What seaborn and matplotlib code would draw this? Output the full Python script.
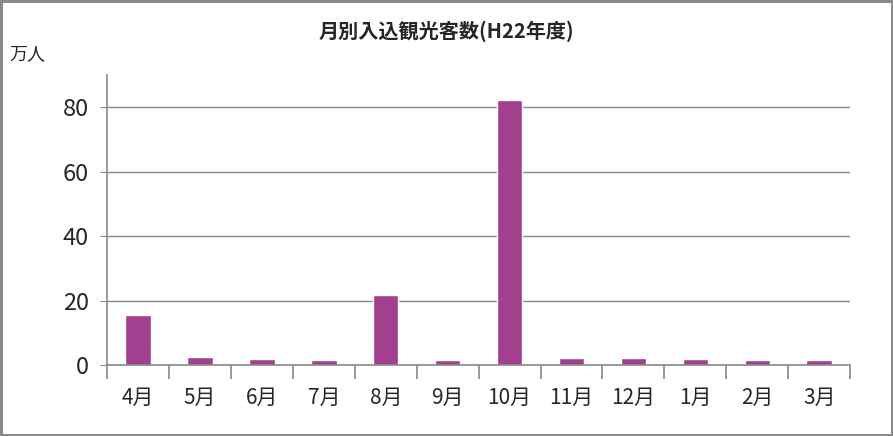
import matplotlib
matplotlib.use("Agg")
import matplotlib.pyplot as plt
import numpy as np
import pandas as pd
import seaborn as sns

# data (万人)
months = ["4月", "5月", "6月", "7月", "8月", "9月", "10月", "11月", "12月", "1月", "2月", "3月"]
visitors = [15.5, 2.5, 1.9, 1.6, 21.7, 1.6, 82.3, 2.2, 2.2, 1.9, 1.6, 1.6]
y_ticks = [0, 20, 40, 60, 80]

sns.set_style("white")
plt.rcParams["font.family"] = ["Noto Sans CJK JP", "DejaVu Sans"]

df = pd.DataFrame({"month": months, "visitors": visitors})

fig = plt.figure(figsize=(8.93, 4.36), dpi=100, edgecolor="#8a8a8a", linewidth=2.5)
ax = fig.add_axes([0.12, 0.163, 0.832, 0.665])

grid_col = "#888888"
ax.set_axisbelow(True)
for t in y_ticks[1:]:
    ax.axhline(t, color=grid_col, linewidth=1, zorder=0)

sns.barplot(data=df, x="month", y="visitors", color="#A23F8E", width=0.41,
            saturation=1, ax=ax, zorder=2)

ax.set_ylim(0, 90)
ax.set_xlim(-0.5, len(months) - 0.5)
ax.set_yticks(y_ticks)
ax.set_xlabel("")
ax.set_ylabel("")

for s in ["top", "right"]:
    ax.spines[s].set_visible(False)
for s in ["left", "bottom"]:
    ax.spines[s].set_color(grid_col)
    ax.spines[s].set_linewidth(1.2)

ax.tick_params(axis="y", labelsize=17, length=5, color=grid_col, pad=8, left=True)
ax.tick_params(axis="x", which="major", labelsize=15, length=0, pad=16)
ax.set_xticks(np.arange(-0.5, len(months)), minor=True)
ax.tick_params(axis="x", which="minor", length=10, color=grid_col, width=1.2, bottom=True)

fig.text(0.5, 0.928, "月別入込観光客数(H22年度)", ha="center", va="center",
         fontsize=14.5, fontweight="bold")
fig.text(0.01, 0.875, "万人", ha="left", va="center", fontsize=13)

fig.savefig("out.png", dpi=100)
